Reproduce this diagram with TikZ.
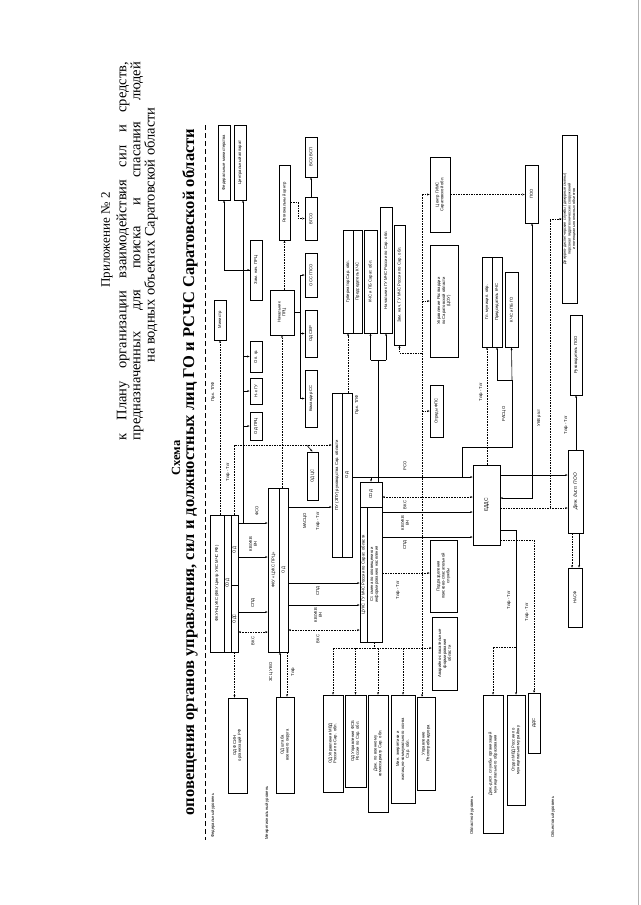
\documentclass[tikz,border=0pt]{standalone}
\usepackage{fontspec}
\setmainfont{Liberation Serif}
\setsansfont{Liberation Sans}
\usetikzlibrary{arrows.meta}

\begin{document}
\begin{tikzpicture}[x=1pt,y=-1pt,
  font=\sffamily\fontsize{4.2}{4.8}\selectfont,
  box/.style={draw,rotate=90,line width=0.8pt,inner sep=0.5pt,align=center},
  lbl/.style={rotate=90,inner sep=0.3pt,align=center},
  lev/.style={rotate=90,anchor=west,inner sep=0pt},
  ttl/.style={rotate=90,inner sep=0pt,font=\rmfamily\fontsize{14.5}{16}\selectfont},
  arr/.style={-{Stealth[length=2.4pt,width=2pt]},line width=0.6pt},
  dsh/.style={arr,dash pattern=on 1.6pt off 1pt},
  both/.style={{Stealth[length=2.4pt,width=2pt]}-{Stealth[length=2.4pt,width=2pt]},line width=0.6pt,dash pattern=on 1.6pt off 1pt},
  wire/.style={line width=0.6pt},
  dwire/.style={line width=0.6pt,dash pattern=on 1.6pt off 1pt}
]
\fill[white] (0,0) rectangle (640,905);
\useasboundingbox (0,0) rectangle (640,905);
\draw[gray!60,line width=1pt] (638,0) -- (638,905);

% title
\node[ttl,font=\rmfamily\fontsize{13}{15}\selectfont] (app) at (107,240) {Приложение №~2};
\node[ttl] (plan1) at (123,251) {\makebox[378pt][s]{к Плану организации взаимодействия сил и средств,}};
\node[ttl] (plan2) at (137,251) {\makebox[378pt][s]{предназначенных для поиска и спасания людей}};
\node[ttl] (plan3) at (151,235) {на водных объектах Саратовской области};
\node[ttl,font=\rmfamily\bfseries\fontsize{12.5}{14}\selectfont] (sch) at (176,458) {Схема};
\node[ttl,font=\rmfamily\bfseries\fontsize{16.5}{19}\selectfont] (head) at (190,472) {оповещения органов управления, сил и должностных лиц ГО и РСЧС Саратовской области};
\draw[dwire,dash pattern=on 5pt off 3pt] (205,125) -- (205,840);

% levels
\node[lev] at (213,838) {Федеральный уровень};
\node[lev] at (267,840) {Межрегиональный уровень};
\node[lev] at (472,835) {Областной уровень};
\node[lev] at (553,838) {Объектовый уровень};

% federal and interregional boxes
\node[box,minimum width=40,minimum height=12] (min) at (220,320) {Министр};
\node[box,minimum width=75,minimum height=12] (fedmin) at (224,162.5) {Федеральные министерства};
\node[box,minimum width=75,minimum height=12] (capp) at (240,162.5) {Центральный аппарат};
\node[box,minimum width=28,minimum height=12] (odprc) at (256,426) {ОД ПРЦ};
\node[box,minimum width=26,minimum height=12] (ngu) at (256,391) {Н-к ГУ};
\node[box,minimum width=31,minimum height=12] (opgr) at (256,356.5) {Оп. гр.};
\node[box,minimum width=60,minimum height=12] (zprc) at (256,270) {Зам. нач. ПРЦ};
\node[box,minimum width=45,minimum height=24] (nprc) at (282,312.5) {Начальник\\ПРЦ};
\node[box,minimum width=75,minimum height=11] (regc) at (284.5,202.5) {Региональный центр};

\node[box,minimum width=137,minimum height=14] (fkun1) at (217,583.5) {ФКУ НЦУКС (ФКУ Центр УКС МЧС РФ)};
\node[box,minimum width=137,minimum height=7] (fkun2) at (227.5,583.5) {СОД};
\node[box,minimum width=70,minimum height=7] (fkun3a) at (234.5,550) {ОД};
\node[box,minimum width=67,minimum height=7] (fkun3b) at (234.5,618.5) {ОДС};
\node[box,minimum width=164,minimum height=11] (prc1) at (273.5,570) {ФКУ «ЦУКС ПРЦ»};
\node[box,minimum width=164,minimum height=9] (prc2) at (283.5,570) {ОД};
\node[box,minimum width=95,minimum height=19] (odfsin) at (237.5,745.5) {ОД ФСИН\\организаций РФ};
\node[box,minimum width=96,minimum height=18] (odvo) at (285,745) {ОД штаба\\военного округа};

% regional boxes
\node[box,minimum width=40,minimum height=12] (c1) at (311,157) {ВСО ВСП};
\node[box,minimum width=43,minimum height=12] (c2) at (311,218.5) {ВГСО};
\node[box,minimum width=44,minimum height=12] (c3) at (311,275) {ОСС ГПСО};
\node[box,minimum width=47,minimum height=12] (c4) at (311,333.5) {ОД СВР};
\node[box,minimum width=57,minimum height=12] (c5) at (311,398.5) {Командир СС};
\node[box,minimum width=48,minimum height=11] (odcs) at (312.5,476) {ОД ЦС};
\node[box,minimum width=164,minimum height=10] (pu1) at (337,475) {ПУ (ЗПУ) руководства Сар. области};
\node[box,minimum width=164,minimum height=10] (pu2) at (347,475) {ОД};

\node[box,minimum width=103,minimum height=10] (gub) at (348,281.5) {Губернатор Сар. обл.};
\node[box,minimum width=103,minimum height=9] (pkchs) at (357.5,281.5) {Председатель КЧС};
\node[box,minimum width=103,minimum height=13] (kchs) at (370.5,281.5) {КЧС и ПБ Сарат. обл.};
\node[box,minimum width=126,minimum height=12] (ngum) at (386,270) {Начальник ГУ МЧС России по Сар. обл.};
\node[box,minimum width=120,minimum height=11] (zgum) at (399.5,285) {Зам. нач. ГУ МЧС России по Сар. обл.};

\node[box,minimum width=25,minimum height=22] (cuks3) at (371,494.5) {СОД};
\node[box,minimum width=135,minimum height=7] (cuks1) at (363.5,574.5) {ЦУКС ГУ МЧС России по Сарат. области};
\node[box,minimum width=135,minimum height=15] (cuks2) at (374.5,574.5) {Ст. смена по оповещению и\\информированию населения};

\node[box,minimum width=75,minimum height=20] (gims) at (440,194.5) {Центр ГИМС\\Саратовской обл.};
\node[box,minimum width=112,minimum height=28] (rosg) at (444,301) {Управление Росгвардии\\по Саратовской области\\(ЦОУ)};
\node[box,minimum width=52,minimum height=13] (fps) at (436.5,411) {Отряды ФПС};
\node[box,minimum width=72,minimum height=27] (podr) at (443.5,576) {Подразделения\\поисково-спасательной\\службы};
\node[box,minimum width=73,minimum height=25] (asf) at (444.5,653.5) {Аварийно-спасательные\\формирования\\области};

\node[box,minimum width=97,minimum height=20] (mvd) at (333,743.5) {ОД Управления МВД\\России по Сар. обл.};
\node[box,minimum width=92,minimum height=21] (fsb) at (355.5,741) {ОД Управления ФСБ\\России по Сар. обл.};
\node[box,minimum width=117,minimum height=20] (voenk) at (378,753.5) {Деж. по военному\\комиссариату Сар. обл.};
\node[box,minimum width=108,minimum height=24] (minen) at (403,749) {Мин. энергетики и\\жилищно-коммунального хоз-ва\\Сар. обл.};
\node[box,minimum width=93,minimum height=18] (rpn) at (426,743.5) {Управление\\Роспотребнадзора};

\node[box,minimum width=80,minimum height=27,font=\sffamily\fontsize{5}{6}\selectfont] (edds) at (486.5,505) {ЕДДС};
\node[box,minimum width=90,minimum height=10] (glmo1) at (487,302) {Гл. муницип. обр.};
\node[box,minimum width=90,minimum height=10] (glmo2) at (497,302) {Председатель КЧС};
\node[box,minimum width=75,minimum height=13] (kchsgo) at (511.5,309.5) {КЧС и ПБ ГО};

% object level
\node[box,minimum width=58,minimum height=13] (poo) at (531.5,194) {ПОО};
\node[box,minimum width=168,minimum height=15,font=\sffamily\fontsize{3.8}{4.6}\selectfont] (ddsbig) at (569.5,219) {Дежурно-диспетчерские службы (дежурные смены)\\персонал гидротехнических сооружений\\и потенциально опасных объектов};
\node[box,minimum width=80,minimum height=12] (rukpoo) at (576,355) {Руководитель ПОО};
\node[box,minimum width=83,minimum height=15,font=\sffamily\itshape\fontsize{4.8}{5.5}\selectfont] (ddpoo) at (575.5,491.5) {Деж. дисп. ПОО};
\node[box,minimum width=59,minimum height=14] (nasf) at (575,597.5) {НАСФ};
\node[box,minimum width=138,minimum height=20] (ddsorg) at (493,764) {Деж.-дисп. службы организаций\\муниципального образования};
\node[box,minimum width=110,minimum height=18] (omvd) at (516,750) {Отдел МВД России по\\муниципальному району};
\node[box,minimum width=60,minimum height=12] (dds) at (534,723) {ДДС};

% top links
\draw[arr] (fkun3a.south |- 0,523) -- (prc1.north |- 0,523);
\node[lbl] at (257,511) {ФСО};
\draw[arr] (243,523) -- (capp.west -| 243,0);
\draw[arr] (243,0 |- odprc.north) -- (odprc.north);
\draw[arr] (243,0 |- ngu.north) -- (ngu.north);
\draw[arr] (243,0 |- opgr.north) -- (opgr.north);
\draw[arr] (243,0 |- zprc.north) -- (zprc.north);
\draw[arr] (zprc.north) -| (fedmin.west);
\draw[dsh] (min.west |- fkun1.east) -- (min.west);
\node[lbl] at (213,392) {Пр.к. ТЛФ};
\draw[dsh] (regc.west |- nprc.east) -- (regc.west);
\draw[dsh] (nprc.west |- prc1.east) -- (nprc.west);
\draw[wire] (nprc.south) -- (300,0 |- nprc.south);
\draw[wire] (300,0 |- c3.north) -- (300,0 |- c5.north);
\draw[arr] (300,0 |- c3.north) -- (c3.north);
\draw[arr] (300,0 |- c4.north) -- (c4.north);
\draw[arr] (300,0 |- c5.north) -- (c5.north);
\draw[dsh] (regc.south) -- ++(8,0) |- (c2.north);
\draw[arr] (c2.east) -- (c1.west);
\draw[dsh] (fkun3a.east) -- (234.5,445) -- (pu1.north |- 0,445);
\node[lbl] at (228,472) {Тлф - Тлг};
\draw[arr] (odcs.north |- 0,445) -- (odcs.east);

% federal to interregional
\draw[arr] (fkun3a.south |- 0,557) -- (prc1.north |- 0,557);
\node[lbl] at (253,544) {КВ/УКВ\\ВЧ};
\draw[arr] (fkun3b.south |- 0,612) -- (prc1.north |- 0,612);
\node[lbl] at (253,603) {СПД};
\draw[both] (fkun3b.south |- 0,632) -- (prc1.north |- 0,632);
\node[lbl] at (253,641) {ВКС};
\draw[dsh] (fkun3b.west) -- (odfsin.east -| fkun3b.west);
\draw[arr] (280,0 |- odvo.east) -- (280,0 |- prc1.west);
\node[lbl] at (271,672) {ЗС ЦУ ВО};
\draw[dsh] (287,0 |- prc2.west) -- (287,0 |- odvo.east);
\node[lbl] at (293,672) {Тлф};

% interregional to regional
\draw[arr] (prc2.south |- 0,507) -- (pu1.north |- 0,507);
\node[lbl] at (305,521) {МАСЦО};
\node[lbl] at (318,521) {Тлф - Тлг};
\draw[arr] (prc2.south |- 0,583) -- (cuks1.north |- 0,583);
\node[lbl] at (318,591) {СПД};
\draw[arr] (prc2.south |- 0,605) -- (cuks1.north |- 0,605);
\node[lbl] at (318,615) {КВ/УКВ\\ВЧ};
\draw[both] (prc2.south |- 0,630) -- (cuks1.north |- 0,630);
\node[lbl] at (318,639) {ВКС};

% regional links
\draw[dsh] (gub.west |- pu2.east) -- (gub.west);
\node[lbl] at (357,405) {Пр.к. ТЛФ};
\draw[wire] (cuks3.east -| 378,0) -- (378,360);
\draw[wire] (kchs.west |- 0,360) -- (ngum.west |- 0,360);
\draw[arr] (kchs.west |- 0,360) -- (kchs.west);
\draw[arr] (ngum.west |- 0,360) -- (ngum.west);
\draw[arr,line width=0.9pt] (pu2.south |- 0,477) -- (edds.north |- 0,477);
\node[lbl] at (405,466) {РСО};
\draw[arr] (cuks3.east |- 0,477) -- (cuks3.east);
\draw[both] (cuks3.south |- 0,497) -- (edds.north |- 0,497);
\node[lbl] at (405,505) {ВКС};
\draw[arr] (cuks2.south |- 0,512) -- (edds.north |- 0,512);
\node[lbl] at (405,523) {КВ/УКВ\\ВЧ};
\draw[arr] (cuks2.south |- 0,537) -- (edds.north |- 0,537);
\node[lbl] at (405,545) {СПД};
\draw[dsh] (cuks2.south |- 0,573) -- (podr.north |- 0,573);
\node[lbl] at (398,590) {Тлф - Тлг};
\draw[dwire] (cuks2.west) -- (cuks2.west |- 0,648);
\draw[dsh] (mvd.east |- 0,648) -- (asf.north |- 0,648);
\draw[dsh] (mvd.east |- 0,648) -- (mvd.east);
\draw[dsh] (fsb.east |- 0,648) -- (fsb.east);
\draw[dsh] (voenk.east |- 0,648) -- (voenk.east);
\draw[dsh] (minen.east |- 0,648) -- (minen.east);
\draw[dwire] (422,0 |- gims.north) -- (422,648);
\draw[dsh] (422,648) -- (rpn.east -| 422,0);
\draw[dsh] (422,0 |- gims.north) -- (gims.north);
\draw[dsh] (422,0 |- rosg.north) -- (rosg.north);
\draw[dsh] (422,0 |- fps.north) -- (fps.north);
\draw[dsh] (422,353) -| (zgum.west);
\draw[dsh] (gims.south) -- (poo.north |- gims.south);

% municipal links
\draw[wire] (462,477) -- (462,447) -- (512,447) -- (512,380) -- (497,380);
\draw[arr] (497,380) -- (glmo2.west);
\draw[arr] (512,380) -- (kchsgo.west);
\node[lbl] at (504,414) {РАСЦО};
\draw[dsh] (glmo1.west |- edds.east) -- (glmo1.west);
\node[lbl] at (481,392) {Тлф - Тлг};
\draw[arr,line width=0.9pt] (edds.south |- 0,475) -- (ddpoo.north |- 0,475);
\draw[both,solid] (edds.south |- 0,498) -- (532,498) -- (poo.west -| 532,0);
\node[lbl] at (539,418) {УКВ р/ст};
\draw[dsh] (edds.south |- 0,508) -- (550,508) -- (ddpoo.north |- 0,508);
\draw[dsh] (550,508) -- (550,0 |- ddsbig.north) -- (ddsbig.north);
\draw[arr] (ddpoo.east -| 576,0) -- (rukpoo.west);
\node[lbl] at (566,425) {Тлф - Тлг};
\draw[dsh] (572,0 |- ddpoo.west) -- (572,0 |- nasf.east);
\draw[arr] (579,0 |- ddpoo.west) -- (579,0 |- nasf.east);
\draw[arr] (edds.south |- 0,530) -| (omvd.east);
\node[lbl] at (509,600) {Тлф - Тлг};
\draw[dsh] (516,647) -| (ddsorg.east);
\draw[dsh] (edds.south |- 0,540) -| (dds.east);
\node[lbl] at (527,612) {Тлф - Тлг};
\end{tikzpicture}
\end{document}
